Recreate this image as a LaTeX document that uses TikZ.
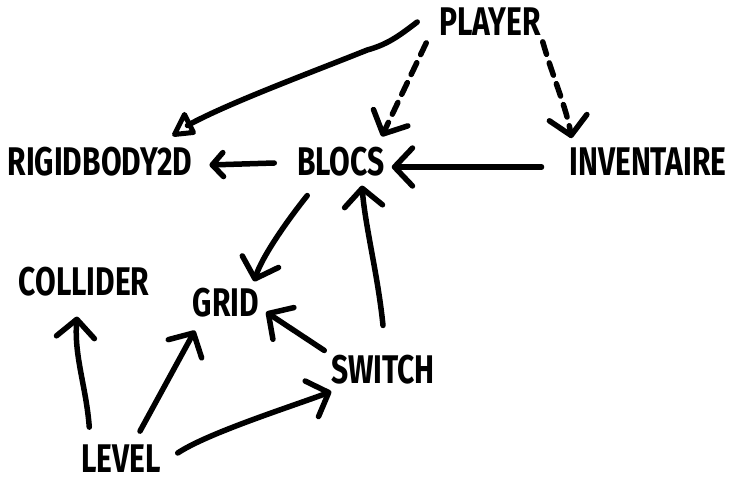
\documentclass[tikz,border=0pt]{standalone}
\usepackage{fontspec}
\setmainfont{Fira Sans}[FakeStretch=0.75]
\usetikzlibrary{arrows.meta,calc}

\begin{document}
\begin{tikzpicture}[x=1pt, y=-1pt,
    lbl/.style={font=\bfseries\fontsize{40}{40}\selectfont, inner sep=0pt, outer sep=0pt},
    stroke/.style={line width=5.5pt, line cap=round, line join=round},
    link/.style={stroke, -{Straight Barb[length=18pt,width=38pt,line cap=round,line join=round]}},
    smalllink/.style={link, -{Straight Barb[length=11pt,width=24pt,line cap=round,line join=round]}},
    dashlink/.style={link, dash pattern=on 13pt off 9pt}]
    \useasboundingbox (0,0) rectangle (737,484);

    % Classes
    \foreach \name/\x/\y/\txt in {player/490/22/PLAYER, rigid/100/162/RIGIDBODY2D,
                                   blocs/341/162/BLOCS, inv/648/162/INVENTAIRE,
                                   collider/84/282/COLLIDER, grid/226/303/GRID,
                                   switch/383/370/SWITCH, level/121/459/LEVEL}
      \node[lbl] (\name) at (\x,\y) {\txt};

    % Player
    \coordinate (rtip) at ($(rigid.north east)+(-18,-13)$);
    \draw[stroke] ($(player.west)+(-22,0)$) .. controls +(-16,12) and +(22,-6) .. ($(player.west)+(-72,28)$)
      .. controls +(-60,24) and +(40,-22) .. ($(rtip)+(13,-9)$);
    \draw[stroke, line width=5pt] (rtip) -- ++(19,-2) -- ++(-9,-18) -- cycle;
    \draw[dashlink] ($(player.south west)+(-13,7)$) -- ($(blocs.north east)+(-3,-11)$);
    \draw[dashlink] ($(player.south east)+(2,6)$) .. controls +(10,35) and +(-5,-30) .. ($(inv.north west)+(2,-10)$);

    % Blocs
    \draw[link] ($(inv.west)+(-28,5)$) -- ($(blocs.east)+(7,5)$);
    \draw[smalllink] ($(blocs.west)+(-23,1)$) -- ($(rigid.east)+(17,3)$);
    \draw[link] ($(blocs.south west)+(10,19)$) .. controls +(-20,25) and +(8,-25) .. ($(grid.north east)+(-5,-7)$);

    % Switch
    \draw[link] ($(switch.north)+(0,-30)$) .. controls +(-5,-50) and +(3,40) .. ($(blocs.south)+(21,9)$);
    \draw[link] ($(switch.north west)+(-7,-5)$) -- ($(grid.east)+(7,9)$);

    % Level
    \draw[link] ($(level.north west)+(8,-18)$) .. controls +(-3,-40) and +(-3,40) .. ($(collider.south)+(-7,20)$);
    \draw[link] ($(level.north)+(19,-14)$) -- ($(grid.south west)+(2,13)$);
    \draw[link] ($(level.east)+(17,-6)$) .. controls +(30,-20) and +(-40,15) .. ($(switch.south west)+(0,7)$);
  \end{tikzpicture}
\end{document}
